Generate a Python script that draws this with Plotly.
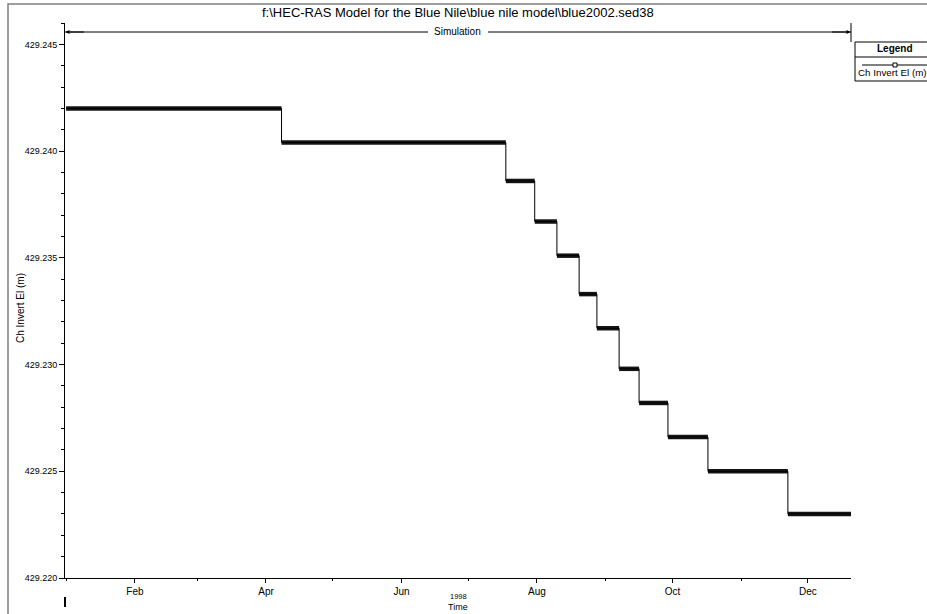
import plotly.graph_objects as go

# ---- data ----
step_starts = ["1998-01-01", "1998-04-08", "1998-07-18", "1998-07-31", "1998-08-10",
               "1998-08-20", "1998-08-28", "1998-09-07", "1998-09-16", "1998-09-29",
               "1998-10-17", "1998-11-22"]
step_ends = step_starts[1:] + ["1998-12-21"]
ch_invert_el = [429.2420, 429.2404, 429.2386, 429.2367, 429.2351, 429.2333,
                429.2317, 429.2298, 429.2282, 429.2266, 429.2250, 429.2230]

month_ticks = ["1998-02-01", "1998-04-01", "1998-06-01", "1998-08-01", "1998-10-01", "1998-12-01"]
month_labels = ["Feb", "Apr", "Jun", "Aug", "Oct", "Dec"]
minor_month_ticks = ["1998-01-01", "1998-03-01", "1998-05-01", "1998-07-01", "1998-09-01", "1998-11-01"]

title_text = "f:\\HEC-RAS Model for the Blue Nile\\blue nile model\\blue2002.sed38"
series_name = "Ch Invert El (m)"

FONT = "Liberation Sans, Arial, sans-serif"

# step line
xs, ys = [], []
for s, e, v in zip(step_starts, step_ends, ch_invert_el):
    xs += [s, e]
    ys += [v, v]

# thick horizontal segments (dense time-step markers)
hx, hy = [], []
for s, e, v in zip(step_starts, step_ends, ch_invert_el):
    hx += [s, e, None]
    hy += [v, v, None]

fig = go.Figure()
fig.add_trace(go.Scatter(x=hx, y=hy, mode="lines", line=dict(color="#161616", width=4.5),
                         showlegend=False, hoverinfo="skip"))
fig.add_trace(go.Scatter(x=xs, y=ys, mode="lines", name=series_name,
                         line=dict(color="black", width=1), showlegend=False))

fig.update_layout(
    width=927, height=614, autosize=False,
    margin=dict(l=65, r=76, t=23, b=36, pad=0),
    plot_bgcolor="white", paper_bgcolor="white",
    font=dict(family=FONT, size=9, color="black"),
    showlegend=False,
)
fig.update_xaxes(
    type="date", range=["1997-12-31 12:00", "1998-12-20 10:00"],
    showgrid=False, zeroline=False, showline=True, linecolor="black", linewidth=1,
    tickmode="array", tickvals=month_ticks, ticktext=month_labels,
    ticks="outside", ticklen=4, tickcolor="black", tickwidth=1,
    tickfont=dict(family=FONT, size=10, color="black"),
    minor=dict(tickvals=minor_month_ticks, ticks="outside", ticklen=2, tickcolor="black", showgrid=False),
)
fig.update_yaxes(
    range=[429.220, 429.246],
    showgrid=False, zeroline=False, showline=True, linecolor="black", linewidth=1,
    tick0=429.220, dtick=0.005, tickformat=".3f",
    ticks="outside", ticklen=5, tickcolor="black", tickwidth=1,
    tickfont=dict(family=FONT, size=9, color="black"),
    minor=dict(dtick=0.001, ticks="outside", ticklen=3, tickcolor="black", showgrid=False),
)

def px_x(p):
    return (p - 65) / 786.0

def px_y(p):
    return (578 - p) / 555.0

shapes = []
# outer frame
shapes.append(dict(type="rect", xref="paper", yref="paper", x0=px_x(8), x1=1.4, y0=-0.4, y1=px_y(4),
                   line=dict(color="#7f7f7f", width=1.5), fillcolor="rgba(0,0,0,0)", layer="below"))
# simulation bar
shapes.append(dict(type="line", xref="paper", yref="paper", x0=0, x1=px_x(428), y0=px_y(32), y1=px_y(32),
                   line=dict(color="black", width=1)))
shapes.append(dict(type="line", xref="paper", yref="paper", x0=px_x(488), x1=1, y0=px_y(32), y1=px_y(32),
                   line=dict(color="black", width=1)))
shapes.append(dict(type="line", xref="paper", yref="paper", x0=1, x1=1, y0=px_y(23), y1=px_y(42),
                   line=dict(color="black", width=1)))
# year separator mark
shapes.append(dict(type="line", xref="paper", yref="paper", x0=0, x1=0, y0=px_y(597), y1=px_y(607),
                   line=dict(color="black", width=2)))
# legend box
shapes.append(dict(type="rect", xref="paper", yref="paper", x0=px_x(855), x1=1.3, y0=px_y(81), y1=px_y(42),
                   line=dict(color="black", width=1), fillcolor="white"))
shapes.append(dict(type="line", xref="paper", yref="paper", x0=px_x(855), x1=1.3, y0=px_y(57), y1=px_y(57),
                   line=dict(color="black", width=1)))
shapes.append(dict(type="line", xref="paper", yref="paper", x0=px_x(862), x1=1.3, y0=px_y(65), y1=px_y(65),
                   line=dict(color="black", width=1)))
shapes.append(dict(type="rect", xref="paper", yref="paper", x0=px_x(893), x1=px_x(897), y0=px_y(67), y1=px_y(63),
                   line=dict(color="black", width=1), fillcolor="white"))
fig.update_layout(shapes=shapes)

ann = []
ann.append(dict(text=title_text, xref="paper", yref="paper", x=px_x(458), y=px_y(13),
                showarrow=False, xanchor="center", yanchor="middle",
                font=dict(family=FONT, size=13, color="black")))
ann.append(dict(text="Simulation", xref="paper", yref="paper", x=px_x(457), y=px_y(32),
                showarrow=False, xanchor="center", yanchor="middle",
                font=dict(family=FONT, size=10, color="black")))
ann.append(dict(text="", xref="paper", yref="paper", x=px_x(65.5), y=px_y(32), ax=20, ay=0,
                showarrow=True, arrowhead=2, arrowsize=0.8, arrowwidth=1, arrowcolor="black"))
ann.append(dict(text="", xref="paper", yref="paper", x=px_x(850.5), y=px_y(32), ax=-20, ay=0,
                showarrow=True, arrowhead=2, arrowsize=0.8, arrowwidth=1, arrowcolor="black"))
ann.append(dict(text="Ch Invert El (m)", xref="paper", yref="paper", x=px_x(20), y=px_y(308),
                showarrow=False, textangle=-90, xanchor="center", yanchor="middle",
                font=dict(family=FONT, size=10, color="black")))
ann.append(dict(text="1998", xref="paper", yref="paper", x=px_x(458), y=px_y(596),
                showarrow=False, xanchor="center", yanchor="middle",
                font=dict(family=FONT, size=7.5, color="black")))
ann.append(dict(text="Time", xref="paper", yref="paper", x=px_x(458), y=px_y(607),
                showarrow=False, xanchor="center", yanchor="middle",
                font=dict(family=FONT, size=9, color="black")))
ann.append(dict(text="<b>Legend</b>", xref="paper", yref="paper", x=px_x(895), y=px_y(49),
                showarrow=False, xanchor="center", yanchor="middle",
                font=dict(family=FONT, size=10, color="black")))
ann.append(dict(text=series_name, xref="paper", yref="paper", x=px_x(856), y=px_y(73),
                showarrow=False, xanchor="left", yanchor="middle",
                font=dict(family=FONT, size=9.8, color="black")))
fig.update_layout(annotations=ann)

fig.write_html(
    "out.html",
    config={"displayModeBar": False},
    post_script="document.body.style.margin='0';document.body.style.padding='0';"
                "document.body.style.overflow='hidden';",
)
